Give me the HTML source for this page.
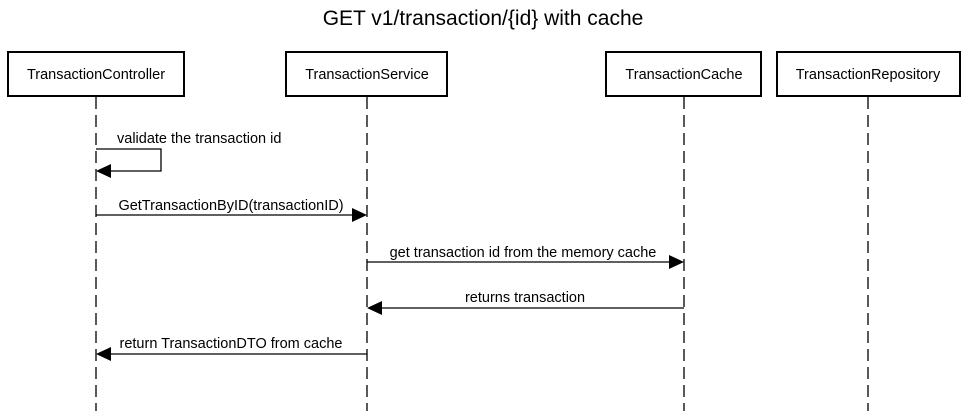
<!DOCTYPE html>
<html><head><meta charset="utf-8"><style>body{margin:0;background:#fff}svg{display:block}text{font-family:"Liberation Sans",Arial,sans-serif;fill:#000}</style></head>
<body>
<svg width="967" height="411" viewBox="0 0 967 411" xmlns="http://www.w3.org/2000/svg">
<text x="483" y="25" font-size="21" text-anchor="middle">GET v1/transaction/{id} with cache</text>
<g stroke="#000" stroke-width="1.3" stroke-dasharray="12,6" fill="none">
<line x1="96" y1="97" x2="96" y2="411"/>
<line x1="367" y1="97" x2="367" y2="411"/>
<line x1="684" y1="97" x2="684" y2="411"/>
<line x1="868" y1="97" x2="868" y2="411"/>
</g>
<g stroke="#000" stroke-width="2" fill="#fff">
<rect x="8" y="52" width="176" height="44"/>
<rect x="286" y="52" width="161" height="44"/>
<rect x="606" y="52" width="155" height="44"/>
<rect x="777" y="52" width="183" height="44"/>
</g>
<g font-size="14.5" text-anchor="middle">
<text x="96" y="79">TransactionController</text>
<text x="367" y="79">TransactionService</text>
<text x="684" y="79">TransactionCache</text>
<text x="868" y="79">TransactionRepository</text>
</g>
<g stroke="#000" stroke-width="1.3" fill="none">
<polyline points="96,149 161,149 161,171 110,171"/>
<line x1="96" y1="215" x2="353" y2="215"/>
<line x1="367" y1="262" x2="670" y2="262"/>
<line x1="684" y1="308" x2="381" y2="308"/>
<line x1="367" y1="354" x2="110" y2="354"/>
</g>
<g fill="#000">
<polygon points="96,171 111,164 111,178"/>
<polygon points="367,215 352,208 352,222"/>
<polygon points="684,262 669,255 669,269"/>
<polygon points="367,308 382,301 382,315"/>
<polygon points="96,354 111,347 111,361"/>
</g>
<g font-size="14.5">
<text x="117" y="143">validate the transaction id</text>
<text x="231" y="210" text-anchor="middle">GetTransactionByID(transactionID)</text>
<text x="523" y="257" text-anchor="middle">get transaction id from the memory cache</text>
<text x="525" y="302" text-anchor="middle">returns transaction</text>
<text x="231" y="348" text-anchor="middle">return TransactionDTO from cache</text>
</g>
</svg>
</body></html>
